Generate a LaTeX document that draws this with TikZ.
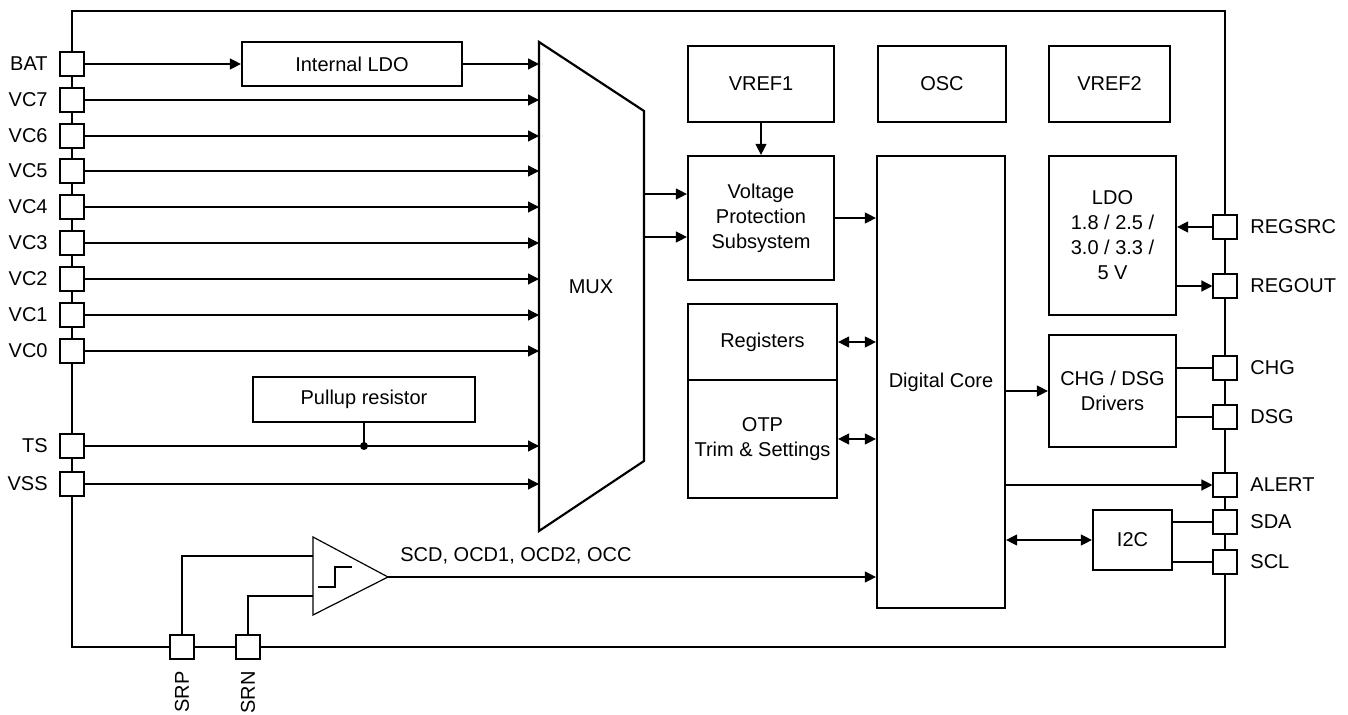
\documentclass[tikz,border=0pt]{standalone}
\usepackage{fontspec}
\setmainfont{Liberation Sans}
\usetikzlibrary{arrows.meta,calc}
\begin{document}
\begin{tikzpicture}[x=0.5pt,y=-0.5pt,
  every node/.style={font=\fontsize{10}{12.5}\selectfont, text=black},
  blk/.style={draw, line width=1.1pt, align=center, inner sep=0pt},
  pin/.style={draw, line width=0.55pt, fill=white, minimum size=12pt, inner sep=0pt},
  wire/.style={line width=0.6pt},
  arr/.style={wire, -{Triangle[length=5.5pt,width=5.5pt]}},
  darr/.style={wire, {Triangle[length=5.5pt,width=5.5pt]}-{Triangle[length=5.5pt,width=5.5pt]}},
  lpl/.style={anchor=east, inner sep=0pt},
  rpl/.style={anchor=west, inner sep=0pt}]
\useasboundingbox (0,0) rectangle (1348,715);

% outer border
\draw[line width=1.1pt] (72,11) rectangle (1225,647);

% blocks
\node[blk, minimum width=110pt, minimum height=22pt] (ildo) at (352,64) {Internal LDO};
\node[blk, minimum width=73pt, minimum height=38pt] (vref1) at (761,84) {VREF1};
\node[blk, minimum width=64pt, minimum height=38pt] (osc) at (942,84) {OSC};
\node[blk, minimum width=60.5pt, minimum height=38pt] (vref2) at (1109.5,84) {VREF2};
\node[blk, minimum width=73pt, minimum height=62pt] (vp) at (761,218) {Voltage\\Protection\\Subsystem};
\node[blk, minimum width=64pt, minimum height=226pt] (core) at (941,382) {Digital Core};
\node[blk, minimum width=63.5pt, minimum height=79.5pt] (ldo) at (1112.5,235.5) {LDO\\1.8 / 2.5 /\\3.0 / 3.3 /\\5 V};
\node[blk, minimum width=63.5pt, minimum height=56pt] (drv) at (1112.5,391) {CHG / DSG\\Drivers};
\node[blk, minimum width=39.5pt, minimum height=30pt] (i2c) at (1132.5,540) {I2C};
\node[blk, minimum width=74.5pt, minimum height=38pt] (reg) at (762.5,342) {Registers};
\node[blk, minimum width=74.5pt, minimum height=59pt] (otp) at (762.5,439) {OTP\\Trim \& Settings};
\node[blk, minimum width=111pt, minimum height=22.5pt] (pull) at (364,399.5) {Pullup resistor};

% MUX
\draw[line width=1.1pt] (539,42) coordinate (muxTL) -- (644,111) coordinate (muxTR)
  -- (644,461) coordinate (muxBR) -- (539,531) coordinate (muxBL) -- cycle;
\node (mux) at (591,287) {MUX};
\coordinate (mo1) at (644,194);
\coordinate (mo2) at (644,237);

% left pins
\foreach \n/\y in {BAT/64, VC7/100, VC6/136, VC5/171, VC4/207, VC3/243, VC2/279, VC1/315, VC0/351, TS/446, VSS/484} {
  \node[pin] (p\n) at (72,\y) {};
  \node[lpl] (l\n) at (48,\y) {\n};
}
% right pins
\foreach \n/\y in {REGSRC/227, REGOUT/286, CHG/368, DSG/417, ALERT/485, SDA/522, SCL/562} {
  \node[pin] (p\n) at (1225,\y) {};
  \node[rpl] (l\n) at (1250,\y) {\n};
}
% bottom pins
\node[pin] (pSRP) at (182,647) {};
\node[pin] (pSRN) at (248,647) {};
\node[rotate=90, anchor=east, inner sep=0pt] (lSRP) at (182,671) {SRP};
\node[rotate=90, anchor=east, inner sep=0pt] (lSRN) at (248,671) {SRN};

% left side connections
\draw[arr] (pBAT.east) -- (ildo.west);
\draw[arr] (ildo.east) -- (ildo.east -| muxTL);
\foreach \n in {VC7,VC6,VC5,VC4,VC3,VC2,VC1,VC0,TS,VSS} {
  \draw[arr] (p\n.east) -- (p\n.east -| muxTL);
}
\draw[wire] (pull.south) -- (pull.south |- pTS) coordinate (tsdot);
\fill (tsdot) circle (2pt);

% MUX outputs
\draw[arr] (mo1) -- (mo1 -| vp.west);
\draw[arr] (mo2) -- (mo2 -| vp.west);

% center connections
\draw[arr] (vref1.south) -- (vp.north);
\draw[arr] (vp.east) -- (vp.east -| core.west);
\draw[darr] (reg.east) -- (reg.east -| core.west);
\draw[darr] (otp.east) -- (otp.east -| core.west);

% right side
\draw[arr] (pREGSRC.west) -- (pREGSRC.west -| ldo.east);
\draw[arr] (pREGOUT.west -| ldo.east) -- (pREGOUT.west);
\draw[arr] (core.east |- drv.west) -- (drv.west);
\draw[wire] (pCHG.west -| drv.east) -- (pCHG.west);
\draw[wire] (pDSG.west -| drv.east) -- (pDSG.west);
\draw[arr] (pALERT.west -| core.east) -- (pALERT.west);
\draw[darr] (core.east |- i2c.west) -- (i2c.west);
\draw[wire] (pSDA.west -| i2c.east) -- (pSDA.west);
\draw[wire] (pSCL.west -| i2c.east) -- (pSCL.west);

% comparator
\draw[line width=0.6pt] (313,537) coordinate (cmpA) -- (388,577) coordinate (cmpOut) -- (313,615) coordinate (cmpB) -- cycle;
\draw[line width=0.9pt] (318,587) -- (335,587) -- (335,567) -- (352,567);
\coordinate (cmpP) at (313,556);
\coordinate (cmpN) at (313,596);
\draw[wire] (pSRP.north) |- (cmpP);
\draw[wire] (pSRN.north) |- (cmpN);
\draw[arr] (cmpOut) -- (cmpOut -| core.west);
\node[anchor=base west, inner sep=0pt] (scdlbl) at (400,561) {SCD, OCD1, OCD2, OCC};
\end{tikzpicture}
\end{document}
